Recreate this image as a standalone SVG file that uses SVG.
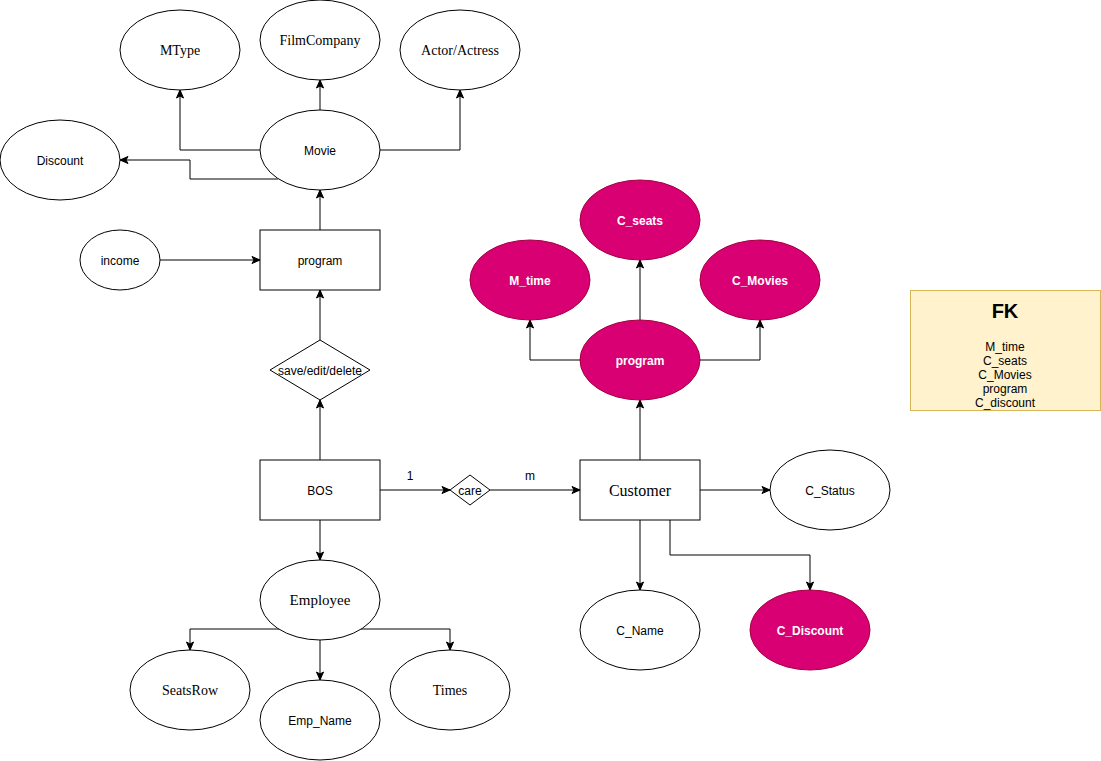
<svg xmlns="http://www.w3.org/2000/svg" width="1101" height="761" viewBox="0 0 1101 761">
  <style>
    .shape { fill: #ffffff; stroke: #000000; stroke-width: 1; }
    .pink { fill: #d80073; stroke: #a50040; stroke-width: 1; }
    .edge { fill: none; stroke: #000000; stroke-width: 1; marker-end: url(#arrow); }
    .sans { font-family: "Liberation Sans", Arial, sans-serif; font-size: 12px; fill: #000000; text-anchor: middle; }
    .serif { font-family: "Liberation Serif", "Times New Roman", serif; font-size: 14px; fill: #000000; text-anchor: middle; }
    .light { font-family: "Liberation Sans", Arial, sans-serif; font-size: 12px; font-weight: bold; fill: #ffffff; text-anchor: middle; }
    .note { fill: #fff2cc; stroke: #d6b656; stroke-width: 1; }
  </style>
  <defs>
    <marker id="arrow" markerUnits="userSpaceOnUse" markerWidth="10" markerHeight="10" viewBox="0 0 10 10" refX="9" refY="5" orient="auto">
      <path d="M1,1.5 L9,5 L1,8.5 L3,5 Z" fill="#000000" stroke="#000000" stroke-width="1"/>
    </marker>
  </defs>
  <rect width="1101" height="761" fill="#ffffff"/>

  <!-- connectors -->
  <g id="connectors">
    <path class="edge" d="M260 150 H180 V90"/>
    <path class="edge" d="M320 110 V80"/>
    <path class="edge" d="M380 150 H460 V90"/>
    <path class="edge" d="M278 179 H190 V160 H120"/>
    <path class="edge" d="M320 230 V190"/>
    <path class="edge" d="M160 260 H260"/>
    <path class="edge" d="M320 340 V290"/>
    <path class="edge" d="M320 460 V400"/>
    <path class="edge" d="M380 490 H450"/>
    <path class="edge" d="M490 490 H580"/>
    <path class="edge" d="M640 460 V400"/>
    <path class="edge" d="M580 360 H530 V320"/>
    <path class="edge" d="M640 320 V260"/>
    <path class="edge" d="M700 360 H760 V320"/>
    <path class="edge" d="M700 490 H770"/>
    <path class="edge" d="M640 520 V590"/>
    <path class="edge" d="M670 520 V555 H810 V590"/>
    <path class="edge" d="M320 520 V560"/>
    <path class="edge" d="M279 629 H190 V650"/>
    <path class="edge" d="M320 640 V680"/>
    <path class="edge" d="M361 629 H450 V650"/>
    <text class="sans" x="410" y="480">1</text>
    <text class="sans" x="530" y="480">m</text>
  </g>

  <!-- movie attributes -->
  <g id="mtype"><ellipse class="shape" cx="180" cy="50" rx="60" ry="40"/><text class="serif" x="180" y="55">MType</text></g>
  <g id="filmcompany"><ellipse class="shape" cx="320" cy="40" rx="60" ry="40"/><text class="serif" x="320" y="45">FilmCompany</text></g>
  <g id="actor"><ellipse class="shape" cx="460" cy="50" rx="60" ry="40"/><text class="serif" x="460" y="55">Actor/Actress</text></g>
  <g id="discount"><ellipse class="shape" cx="60" cy="160" rx="60" ry="40"/><text class="sans" x="60" y="165">Discount</text></g>
  <g id="movie"><ellipse class="shape" cx="320" cy="150" rx="60" ry="40"/><text class="sans" x="320" y="155">Movie</text></g>

  <!-- program entity -->
  <g id="program"><rect class="shape" x="260" y="230" width="120" height="60"/><text class="sans" x="320" y="265">program</text></g>
  <g id="income"><ellipse class="shape" cx="120" cy="260" rx="40" ry="30"/><text class="sans" x="120" y="265">income</text></g>
  <g id="save-edit-delete"><path class="shape" d="M320 340 L370 370 L320 400 L270 370 Z"/><text class="sans" x="320" y="375">save/edit/delete</text></g>

  <!-- BOS and relation -->
  <g id="bos"><rect class="shape" x="260" y="460" width="120" height="60"/><text class="sans" x="320" y="495">BOS</text></g>
  <g id="care"><path class="shape" d="M470 475 L490 490 L470 505 L450 490 Z"/><text class="sans" x="470" y="495">care</text></g>

  <!-- customer entity -->
  <g id="customer"><rect class="shape" x="580" y="460" width="120" height="60"/><text class="serif" x="640" y="496" style="font-size:16px">Customer</text></g>
  <g id="c-status"><ellipse class="shape" cx="830" cy="490" rx="60" ry="40"/><text class="sans" x="830" y="495">C_Status</text></g>
  <g id="c-name"><ellipse class="shape" cx="640" cy="630" rx="60" ry="40"/><text class="sans" x="640" y="635">C_Name</text></g>
  <g id="c-discount"><ellipse class="pink" cx="810" cy="630" rx="60" ry="40"/><text class="light" x="810" y="635">C_Discount</text></g>

  <!-- foreign key attributes -->
  <g id="program-fk"><ellipse class="pink" cx="640" cy="360" rx="60" ry="40"/><text class="light" x="640" y="365">program</text></g>
  <g id="c-seats"><ellipse class="pink" cx="640" cy="220" rx="60" ry="40"/><text class="light" x="640" y="225">C_seats</text></g>
  <g id="m-time"><ellipse class="pink" cx="530" cy="280" rx="60" ry="40"/><text class="light" x="530" y="285">M_time</text></g>
  <g id="c-movies"><ellipse class="pink" cx="760" cy="280" rx="60" ry="40"/><text class="light" x="760" y="285">C_Movies</text></g>

  <!-- employee entity -->
  <g id="employee"><ellipse class="shape" cx="320" cy="600" rx="60" ry="40"/><text class="serif" x="320" y="605" style="font-size:15px">Employee</text></g>
  <g id="seatsrow"><ellipse class="shape" cx="190" cy="690" rx="60" ry="40"/><text class="serif" x="190" y="695">SeatsRow</text></g>
  <g id="emp-name"><ellipse class="shape" cx="320" cy="720" rx="60" ry="40"/><text class="sans" x="320" y="725">Emp_Name</text></g>
  <g id="times"><ellipse class="shape" cx="450" cy="690" rx="60" ry="40"/><text class="serif" x="450" y="695">Times</text></g>

  <!-- FK note -->
  <g id="fk-note">
    <rect class="note" x="910.5" y="290.5" width="190" height="120"/>
    <text class="sans" x="1005" y="318" style="font-size:20px;font-weight:bold">FK</text>
    <text class="sans" x="1005" y="351">M_time</text>
    <text class="sans" x="1005" y="365">C_seats</text>
    <text class="sans" x="1005" y="379">C_Movies</text>
    <text class="sans" x="1005" y="393">program</text>
    <text class="sans" x="1005" y="407">C_discount</text>
  </g>
</svg>
